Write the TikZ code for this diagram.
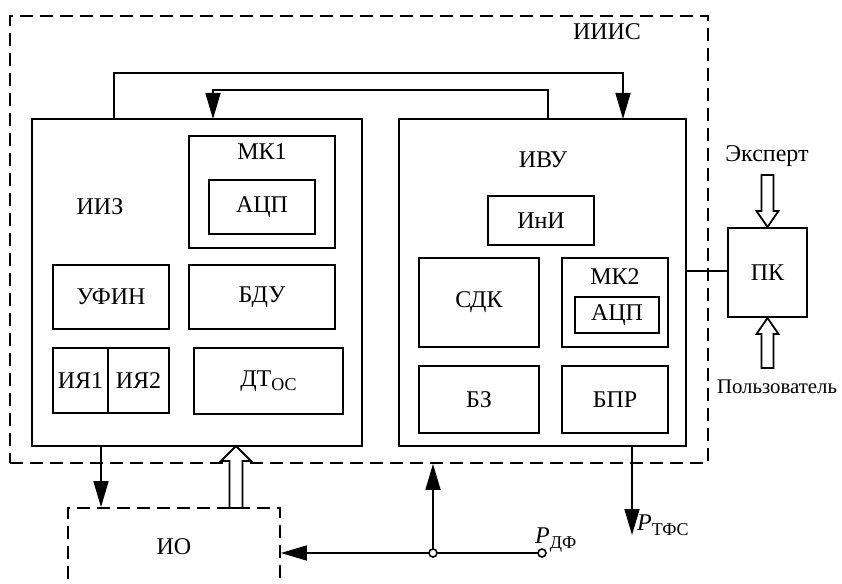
\documentclass[tikz,border=0pt]{standalone}
\usepackage{fontspec}
\setmainfont{Liberation Serif}
\usetikzlibrary{arrows.meta,calc}
\begin{document}
\begin{tikzpicture}[x=1pt,y=-1pt,
  every node/.style={font=\fontsize{24}{28}\selectfont, inner sep=0pt},
  box/.style={draw, line width=2pt, rectangle},
  dbox/.style={draw, line width=1.8pt, dash pattern=on 13pt off 7pt},
  conn/.style={line width=1.6pt},
  arr/.style={conn, -{Triangle[length=26pt,width=15pt]}},
  harrow/.style={draw, line width=1.8pt, fill=white, line join=miter},
  lbl/.style={}
]
\useasboundingbox (0,0) rectangle (842,583);
% outer dashed system
\node[dbox, minimum width=698pt, minimum height=447pt] (iiis) at (359,239.5) {};
\node[lbl] (iiistxt) at (607,32) {ИИИС};
% ИИЗ
\node[box, minimum width=330pt, minimum height=327pt] (iiz) at (197,282.5) {};
\node[lbl] (iiztxt) at (100,207) {ИИЗ};
\node[box, minimum width=146pt, minimum height=112pt] (mk1) at (262,192) {};
\node[lbl] (mk1txt) at (262,152) {МК1};
\node[box, minimum width=106pt, minimum height=54pt] (adc1) at (262,207) {АЦП};
\node[box, minimum width=116pt, minimum height=64pt] (ufin) at (111,297) {УФИН};
\node[box, minimum width=146pt, minimum height=64pt] (bdu) at (262,297) {БДУ};
\node[box, minimum width=55pt, minimum height=65pt] (iya1) at (80.5,380.5) {ИЯ1};
\node[box, minimum width=61pt, minimum height=65pt] (iya2) at (138.5,380.5) {ИЯ2};
\node[box, minimum width=149pt, minimum height=66pt] (dt) at (268.5,381) {ДТ\raisebox{-0.35ex}{\fontsize{18}{20}\selectfont ОС}};
% ИВУ
\node[box, minimum width=287pt, minimum height=327pt] (ivu) at (542.5,282.5) {};
\node[lbl] (ivutxt) at (543,160) {ИВУ};
\node[box, minimum width=106pt, minimum height=49pt] (ini) at (541,220.5) {ИнИ};
\node[box, minimum width=120pt, minimum height=89pt] (sdk) at (479,302.5) {СДК};
\node[box, minimum width=106pt, minimum height=89pt] (mk2) at (615,302.5) {};
\node[lbl] (mk2txt) at (615,277) {МК2};
\node[box, minimum width=84pt, minimum height=36pt] (adc2) at (617,315) {АЦП};
\node[box, minimum width=120pt, minimum height=67pt] (bz) at (479,399.5) {БЗ};
\node[box, minimum width=106pt, minimum height=67pt] (bpr) at (615,399.5) {БПР};
% ПК
\node[box, minimum width=79pt, minimum height=89pt] (pk) at (767.5,272.5) {ПК};
\node[lbl] (exp) at (767,156) {Эксперт};
\node[lbl] (usr) at (777,387) {\resizebox{120pt}{!}{Пользователь}};
% ИО
\node[dbox, minimum width=212pt, minimum height=78pt] (io) at (174,547) {ИО};
% top loops
\coordinate (o1) at (114,119);
\coordinate (o2) at (623,119);
\draw[arr] (o1) -- (114,73) -- (623,73) -- (o2);
\coordinate (i1) at (548,119);
\coordinate (i2) at (213,119);
\draw[arr] (i1) -- (548,90) -- (213,90) -- (i2);
% ИВУ - ПК
\draw[conn] (ivu.east |- 0,271) -- (pk.west |- 0,271);
% hollow arrows at ПК
\draw[harrow] (pk.north) -- ++(-11,-16) -- ++(5,0) -- ++(0,-36) -- ++(12,0) -- ++(0,36) -- ++(5,0) -- cycle;
\draw[harrow] (pk.south) -- ++(-11,16) -- ++(5,0) -- ++(0,34) -- ++(12,0) -- ++(0,-34) -- ++(5,0) -- cycle;
% ИИЗ -> ИО
\coordinate (d1) at (101,446);
\draw[arr] (d1) -- (d1 |- io.north);
% ИО => ИИЗ hollow
\coordinate (h1) at (236,446);
\draw[harrow] (h1) -- ++(-15,15) -- ++(8.5,0) -- ++(0,47) -- ++(13,0) -- ++(0,-47) -- ++(8.5,0) -- cycle;
% P_ДФ input
\coordinate (jn) at (433,553);
\coordinate (pin) at (542,553);
\draw[arr] (pin) -- (jn) -- (jn -| io.east);
\draw[arr] (jn) -- (jn |- iiis.south);
\draw[conn, fill=white] (jn) circle (4pt);
\draw[conn, fill=white] (pin) circle (4pt);
\node[lbl, anchor=base west] (pdf) at (535,543) {\textit{P}\raisebox{-0.5ex}{\fontsize{18}{20}\selectfont ДФ}};
% output
\coordinate (out1) at (632,446);
\coordinate (out2) at (632,535);
\draw[arr] (out1) -- (out2);
\node[lbl, anchor=base west] (ptfs) at (637,530) {\textit{P}\raisebox{-0.5ex}{\fontsize{18}{20}\selectfont ТФС}};
\end{tikzpicture}
\end{document}
